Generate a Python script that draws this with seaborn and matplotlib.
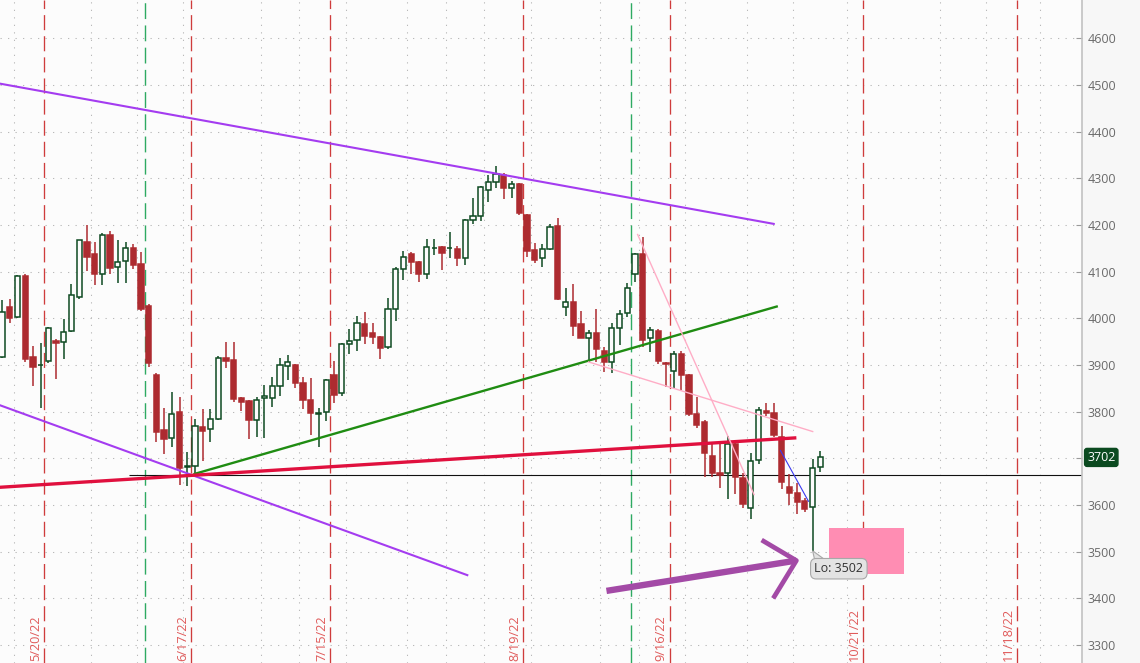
import numpy as np
import pandas as pd
import matplotlib
matplotlib.use("Agg")
import matplotlib.pyplot as plt
import seaborn as sns
from matplotlib.patches import Rectangle, Polygon

# ---------------- data ----------------
opens = [3917, 4024, 4002, 4091, 3917, 3899, 3909, 3951, 3949, 3972,
         4046, 4164, 4138, 4096, 4178, 4109, 4122, 4151, 4116, 4026,
         3879, 3761, 3743, 3800, 3681, 3684, 3767, 3762, 3784, 3914,
         3911, 3829, 3823, 3782, 3829, 3829, 3855, 3898, 3900, 3861,
         3825, 3796, 3799, 3879, 3839, 3946, 3953, 3988, 3969, 3959,
         3938, 4021, 4105, 4138, 4120, 4096, 4150, 4153, 4150, 4149,
         4129, 4211, 4219, 4276, 4293, 4307, 4280, 4287, 4221, 4146,
         4129, 4148, 4198, 4024, 4034, 3988, 3957, 3968, 3930, 3907,
         3979, 4011, 4094, 4138, 3957, 3973, 3905, 3888, 3923, 3879,
         3794, 3777, 3705, 3668, 3668, 3731, 3658, 3593, 3696, 3801,
         3797, 3745, 3639, 3625, 3609, 3596, 3681]
highs = [4039, 4041, 4093, 4095, 3941, 3948, 3982, 3955, 3998, 4073,
         4168, 4201, 4164, 4182, 4188, 4168, 4163, 4159, 4143, 4030,
         3882, 3807, 3843, 3832, 3713, 3784, 3805, 3805, 3920, 3949,
         3949, 3831, 3825, 3832, 3857, 3875, 3914, 3921, 3902, 3875,
         3872, 3807, 3869, 3909, 3948, 3977, 4005, 4014, 3989, 3962,
         4043, 4109, 4144, 4143, 4122, 4169, 4171, 4154, 4186, 4154,
         4212, 4258, 4284, 4307, 4326, 4312, 4294, 4289, 4223, 4161,
         4159, 4202, 4216, 4064, 4073, 4016, 3975, 4019, 3939, 3989,
         4018, 4076, 4140, 4174, 3981, 3977, 3907, 3930, 3929, 3881,
         3832, 3782, 3731, 3731, 3748, 3733, 3668, 3711, 3811, 3819,
         3819, 3769, 3666, 3647, 3614, 3698, 3716]
lows = [3915, 3989, 4000, 3906, 3856, 3807, 3905, 3871, 3912, 3971,
        4041, 4102, 4071, 4071, 4096, 4075, 4075, 4106, 4016, 3896,
        3736, 3709, 3724, 3643, 3641, 3666, 3695, 3734, 3782, 3893,
        3821, 3801, 3741, 3745, 3743, 3811, 3834, 3868, 3850, 3805,
        3750, 3725, 3781, 3819, 3834, 3924, 3930, 3946, 3946, 3912,
        3935, 3994, 4082, 4095, 4078, 4084, 4136, 4104, 4129, 4113,
        4114, 4202, 4208, 4249, 4279, 4255, 4257, 4221, 4131, 4118,
        4109, 4146, 4039, 4006, 3963, 3957, 3907, 3907, 3886, 3882,
        3943, 4003, 4078, 3939, 3928, 3903, 3853, 3850, 3846, 3791,
        3764, 3661, 3659, 3636, 3612, 3624, 3593, 3571, 3687, 3790,
        3746, 3634, 3600, 3581, 3586, 3502, 3670]
closes = [4013, 4000, 4090, 3913, 3896, 3901, 3979, 3948, 3970, 4049,
          4167, 4131, 4096, 4178, 4108, 4120, 4150, 4115, 4021, 3905,
          3757, 3742, 3794, 3680, 3683, 3769, 3759, 3784, 3915, 3909,
          3828, 3821, 3782, 3825, 3834, 3855, 3900, 3906, 3861, 3824,
          3797, 3798, 3868, 3836, 3944, 3952, 3991, 3963, 3961, 3937,
          4019, 4106, 4132, 4121, 4096, 4152, 4151, 4141, 4151, 4129,
          4211, 4219, 4281, 4293, 4309, 4280, 4288, 4226, 4145, 4125,
          4149, 4196, 4041, 4034, 3984, 3958, 3968, 3934, 3907, 3979,
          4009, 4066, 4138, 3954, 3975, 3909, 3903, 3923, 3879, 3795,
          3771, 3711, 3668, 3664, 3731, 3659, 3602, 3694, 3804, 3797,
          3750, 3650, 3626, 3607, 3592, 3680, 3702]

# option-expiration dates (red) and other events (green), as bar positions
expiry_labels = ["5/20/22", "6/17/22", "7/15/22", "8/19/22", "9/16/22", "10/21/22", "11/18/22"]
expiry_pos = [5.5, 24.5, 42.5, 67.5, 86.5, 111.5, 131.5]
event_pos = [18.5, 81.5]
vgrid_pos = [1.5, 11.5, 17.5, 23.5, 33.5, 38.5, 44.5, 52.5, 57.5, 62.5, 68.5,
             77.5, 82.5, 88.5, 96.5, 102.5, 109.5, 121.5, 127.5, 134.5]
price_ticks = list(range(3300, 4700, 100))

# drawn trend lines: (x0, x1), (p0, p1)
upper_channel_x, upper_channel_p = [-0.3, 100.1], [4503, 4202]
lower_channel_x, lower_channel_p = [-0.3, 60.4], [3814, 3449]
green_trend_x, green_trend_p = [24.8, 100.5], [3666, 4026]
red_trend_x, red_trend_p = [-0.3, 102.9], [3638, 3744]
pink_steep_x, pink_steep_p = [82.3, 97.45], [4181, 3621]
pink_flat_x, pink_flat_p = [75.9, 105.1], [3907, 3757]
blue_x, blue_p = [100.8, 104.5], [3718, 3607]
support_level, support_start = 3664, 16.5
arrow_shaft_x, arrow_shaft_p = [78.3, 102.9], [3416, 3481]
arrow_head_x, arrow_head_p = [98.4, 102.9, 99.9], [3525, 3481, 3400]
zone_x, zone_p = [107.1, 116.9], [3452, 3551]
low_value, low_idx = 3502, 105
last_value = 3702

# ---------------- styling ----------------
sns.set_style("white")
plt.rcParams['font.family'] = ['Open Sans', 'DejaVu Sans']

BG = '#fcfcfc'
UP = '#0e4a22'
DN = '#ad2b30'

fig = plt.figure(figsize=(11.4, 6.63), dpi=100, facecolor='#f7f7f7')
ax = fig.add_axes([0, 0, 1082 / 1140, 1])
ax.set_facecolor(BG)
ax.set_xlim(-0.26, 139.9)
ax.set_ylim(3261.5, 4682.1)

# grid
for p in price_ticks:
    ax.axhline(p, color='#b9b9b9', lw=0.75, ls=(0, (1.2, 6.0)), zorder=0)
for xv in vgrid_pos:
    ax.axvline(xv, color='#b9b9b9', lw=0.75, ls=(0, (1.2, 6.0)), zorder=0)
for xv in expiry_pos:
    ax.axvline(xv, color='#cf3c3c', lw=0.95, ls=(0, (11.4, 4.6)), zorder=1)
for xv in event_pos:
    ax.axvline(xv, color='#2eaa62', lw=1.0, ls=(0, (11.4, 4.6)), zorder=1)

# expiry date labels (rotated, hugging the bottom edge)
for xv, lab in zip(expiry_pos, expiry_labels):
    ax.text(xv - 0.25, 3266, lab, rotation=90, ha='right', va='bottom',
            color='#e05a5a', fontsize=9.2, clip_on=False, zorder=2)

# candles
df = pd.DataFrame({'o': opens, 'h': highs, 'l': lows, 'c': closes})
df['x'] = np.arange(len(df))
w = 0.68
for _, r in df.iterrows():
    up = r.c >= r.o
    col = UP if up else DN
    ax.vlines(r.x, r.l, r.h, color=col, lw=1.1, zorder=3)
    lo, hi = min(r.o, r.c), max(r.o, r.c)
    hgt = max(hi - lo, 0.8)
    ax.add_patch(Rectangle((r.x - w / 2, lo), w, hgt,
                           facecolor=(BG if up else DN), edgecolor=col,
                           lw=1.1, zorder=4))

# trend lines via seaborn
def seg(xs, ps, color, lw, z=5, sort=True):
    sns.lineplot(x=xs, y=ps, color=color, lw=lw, ax=ax, sort=sort,
                 zorder=z, estimator=None, legend=False,
                 solid_capstyle='butt')

seg(upper_channel_x, upper_channel_p, '#a43cf0', 1.5)
seg(lower_channel_x, lower_channel_p, '#a43cf0', 1.5)
seg(green_trend_x, green_trend_p, '#1f8c12', 1.7)
seg(red_trend_x, red_trend_p, '#e0103e', 2.4)
seg(pink_steep_x, pink_steep_p, '#ffadc6', 1.0)
seg(pink_flat_x, pink_flat_p, '#ffadc6', 1.0)
seg(blue_x, blue_p, '#3a3af0', 0.8)
seg([support_start, 139.9], [support_level, support_level], '#111111', 0.8, z=2)
seg(arrow_shaft_x, arrow_shaft_p, '#a34aa6', 4.6, z=6)
seg(arrow_head_x, arrow_head_p, '#a34aa6', 3.4, z=6, sort=False)

# pink zone
ax.add_patch(Rectangle((zone_x[0], zone_p[0]), zone_x[1] - zone_x[0],
                       zone_p[1] - zone_p[0], facecolor='#ff8db3',
                       edgecolor='none', zorder=2))

# low callout
ax.add_patch(Polygon([[low_idx, low_value], [low_idx + 0.25, 3484],
                      [low_idx + 1.5, 3484]], closed=True,
                     facecolor='#e3e3e3', edgecolor='#a8a8a8', lw=0.8, zorder=7))
ax.text(108.4, 3463.5, f"Lo: {low_value}", ha='center', va='center',
        fontsize=9, color='#333333', zorder=8,
        bbox=dict(boxstyle='round,pad=0.3,rounding_size=0.45',
                  fc='#e3e3e3', ec='#a8a8a8', lw=0.8))

# right axis
ax.yaxis.tick_right()
ax.set_yticks(price_ticks)
ax.set_yticklabels(['' if p == 3700 else str(p) for p in price_ticks])
ax.tick_params(axis='y', direction='in', length=4, color='#9a9a9a',
               labelcolor='#6a6a6a', labelsize=9, pad=4)
ax.set_xticks([])
for s in ['left', 'top', 'bottom']:
    ax.spines[s].set_visible(False)
ax.spines['right'].set_color('#c2c2c2')
ax.spines['right'].set_linewidth(1.2)

ax.text(1.0047, last_value, f"{last_value}", transform=ax.get_yaxis_transform(),
        ha='left', va='center', color='white', fontsize=9, clip_on=False,
        bbox=dict(boxstyle='round,pad=0.2,rounding_size=0.2', fc='#0b4a20',
                  ec='#0b4a20'))

fig.savefig('out.png', dpi=100, facecolor=fig.get_facecolor())
